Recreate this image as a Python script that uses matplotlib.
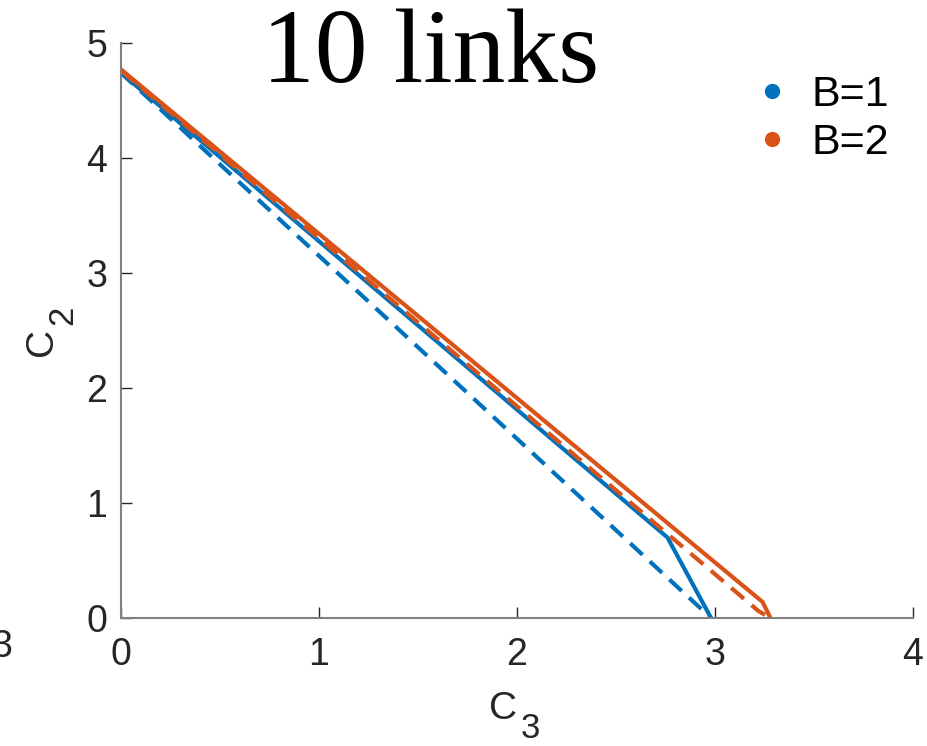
import matplotlib
matplotlib.use("Agg")
import matplotlib.pyplot as plt
from matplotlib.lines import Line2D

# Capacity region boundaries (C3 vs C2) for 10 links
b1_solid_c3 = [0.0, 2.76, 2.98]
b1_solid_c2 = [4.74, 0.70, 0.0]
b1_dash_c3 = [0.0, 2.98]
b1_dash_c2 = [4.74, 0.0]

b2_solid_c3 = [0.0, 3.24, 3.28]
b2_solid_c2 = [4.77, 0.14, 0.0]
b2_dash_c3 = [0.0, 3.22, 3.28]
b2_dash_c2 = [4.76, 0.06, 0.0]

series_labels = ["B=1", "B=2"]
x_ticks = [0, 1, 2, 3, 4]
y_ticks = [0, 1, 2, 3, 4, 5]

blue = "#0072BD"
orange = "#D95319"
text_col = "#262626"

plt.rcParams["font.family"] = ["Liberation Sans", "DejaVu Sans"]

W, H = 927, 746
fig = plt.figure(figsize=(W / 100, H / 100), dpi=100)
ax = fig.add_axes([121 / W, 1 - 618 / H, (913 - 121) / W, (618 - 43) / H])


def px(x, y):
    """Figure pixel position (from top-left) to figure fraction."""
    return x / W, 1 - y / H


lw = 3.0
dash = (0, (4, 2.4))
ax.plot(b1_solid_c3, b1_solid_c2, color=blue, lw=lw, solid_joinstyle="miter")
ax.plot(b1_dash_c3, b1_dash_c2, color=blue, lw=lw, linestyle=dash)
ax.plot(b2_solid_c3, b2_solid_c2, color=orange, lw=lw, solid_joinstyle="miter")
ax.plot(b2_dash_c3, b2_dash_c2, color=orange, lw=lw, linestyle=dash)

ax.set_xlim(0, 4)
ax.set_ylim(0, 5)
ax.set_xticks(x_ticks)
ax.set_yticks(y_ticks)
ax.tick_params(direction="in", length=8, width=1, color=text_col,
               labelsize=27, labelcolor=text_col)
ax.tick_params(axis="x", pad=14)
ax.tick_params(axis="y", pad=10)
for side in ("top", "right"):
    ax.spines[side].set_visible(False)
for side in ("left", "bottom"):
    ax.spines[side].set_color("#808080")
    ax.spines[side].set_linewidth(1.5)

# Axis labels with large subscripts
fig.text(*px(489, 719), "C", fontsize=28, color=text_col,
         ha="left", va="baseline")
fig.text(*px(521, 738), "3", fontsize=25, color=text_col,
         ha="left", va="baseline")
fig.text(*px(52, 356), "C", fontsize=28, color=text_col, rotation=90,
         rotation_mode="anchor", ha="left", va="baseline")
fig.text(*px(72, 325), "2", fontsize=25, color=text_col, rotation=90,
         rotation_mode="anchor", ha="left", va="baseline")

fig.text(*px(262, 82), "10 links", fontsize=76,
         family=["Liberation Serif", "DejaVu Serif"], color="black",
         ha="left", va="baseline")

handles = [Line2D([], [], color=c, marker="o", linestyle="none", markersize=10)
           for c in (blue, orange)]
fig.legend(handles, series_labels, loc="upper left",
           bbox_to_anchor=px(712, 36), frameon=False, fontsize=31,
           handlelength=1.0, handletextpad=0.4, labelspacing=0.2,
           borderpad=0.4, labelcolor="black")

# Tick label of the neighbouring panel, cut by the figure edge
fig.text(*px(12, 647), "3", fontsize=27, color=text_col,
         va="center", ha="right")

fig.savefig("out.png", dpi=100)
